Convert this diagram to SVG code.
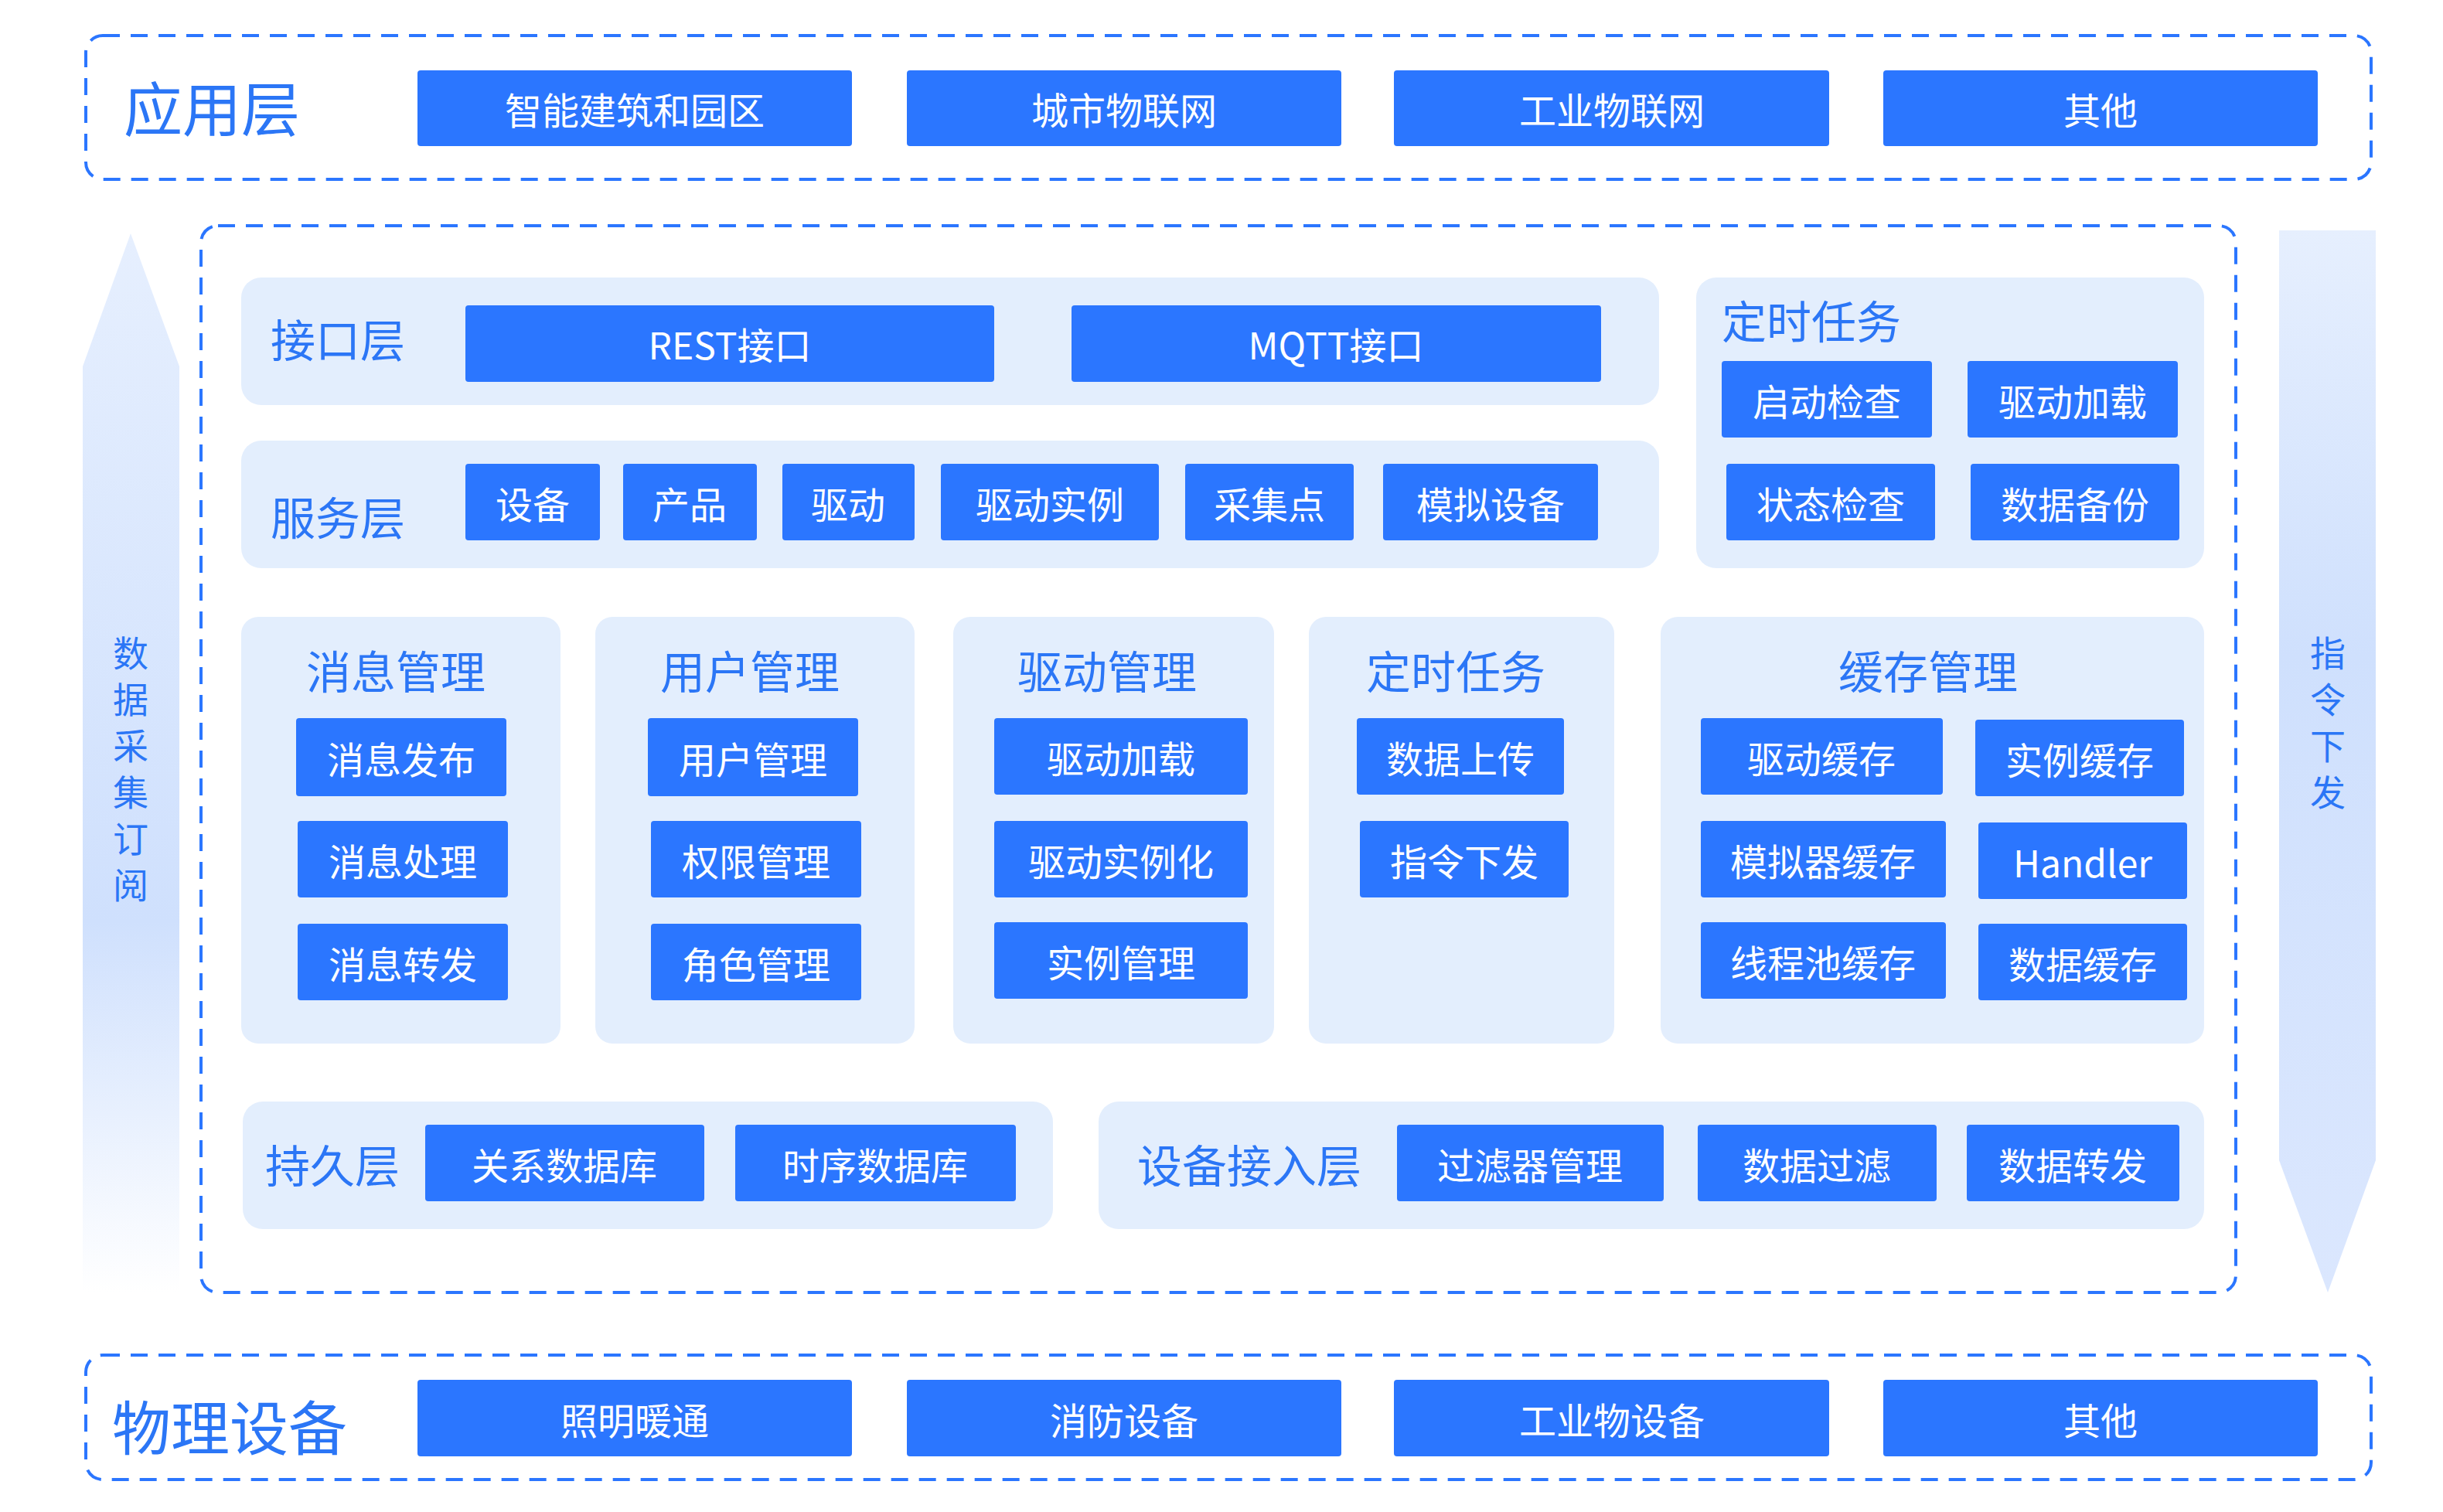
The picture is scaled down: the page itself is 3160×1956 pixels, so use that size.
<svg xmlns="http://www.w3.org/2000/svg" width="3160" height="1956" viewBox="0 0 3160 1956">
<defs>
<linearGradient id="gu" x1="0" y1="1" x2="0" y2="0"><stop offset="0" stop-color="#ffffff"/><stop offset="0.35" stop-color="#cfe0fd"/><stop offset="1" stop-color="#e6effe"/></linearGradient>
<linearGradient id="gd" x1="0" y1="0" x2="0" y2="1"><stop offset="0" stop-color="#e6effe"/><stop offset="0.4" stop-color="#cfe0fd"/><stop offset="1" stop-color="#dbe7fe"/></linearGradient>
<style>
.dash{fill:none;stroke:#2B76FF;stroke-width:4;stroke-dasharray:22 14}
.pan{fill:#E3EEFD}
.btn{fill:#2B76FF}
.bt{fill:#fff;font-family:"Noto Sans CJK SC","Noto Sans",sans-serif;font-size:48px;text-anchor:middle;dominant-baseline:central}
.lb{fill:#2B76F6;font-family:"Noto Sans CJK SC","Noto Sans",sans-serif;font-size:58px;dominant-baseline:central}
.big{font-size:76px}
.mid{text-anchor:middle}
.vt{fill:#2B76F6;font-family:"Noto Sans CJK SC",sans-serif;font-size:46px;text-anchor:middle;dominant-baseline:central}
</style>
</defs>
<g id="arrows">
<path d="M107 474 L169 302 L232 474 L232 1672 L107 1672 Z" fill="url(#gu)"/>
<path d="M2948 298 L3073 298 L3073 1501 L3011 1672 L2948 1501 Z" fill="url(#gd)"/>
<text class="vt" x="169" y="842">数</text><text class="vt" x="169" y="902">据</text><text class="vt" x="169" y="962">采</text><text class="vt" x="169" y="1022">集</text><text class="vt" x="169" y="1082">订</text><text class="vt" x="169" y="1142">阅</text>
<text class="vt" x="3011" y="842">指</text><text class="vt" x="3011" y="902">令</text><text class="vt" x="3011" y="962">下</text><text class="vt" x="3011" y="1022">发</text>
</g>
<g id="app">
<rect class="dash" x="111" y="46" width="2956" height="186" rx="22"/>
<text class="lb big" x="160" y="137">应用层</text>
<rect class="btn" x="540" y="91" width="562" height="98" rx="4"/><text class="bt" x="821" y="140">智能建筑和园区</text>
<rect class="btn" x="1173" y="91" width="562" height="98" rx="4"/><text class="bt" x="1454" y="140">城市物联网</text>
<rect class="btn" x="1803" y="91" width="563" height="98" rx="4"/><text class="bt" x="2085" y="140">工业物联网</text>
<rect class="btn" x="2436" y="91" width="562" height="98" rx="4"/><text class="bt" x="2717" y="140">其他</text>
</g>
<g id="core">
<rect class="dash" x="260" y="292" width="2632" height="1380" rx="22"/>
</g>
<g id="iface">
<rect class="pan" x="312" y="359" width="1834" height="165" rx="26"/>
<text class="lb" x="350" y="437">接口层</text>
<rect class="btn" x="602" y="395" width="684" height="99" rx="4"/><text class="bt" x="944" y="444">REST接口</text>
<rect class="btn" x="1386" y="395" width="685" height="99" rx="4"/><text class="bt" x="1728" y="444">MQTT接口</text>
</g>
<g id="service">
<rect class="pan" x="312" y="570" width="1834" height="165" rx="26"/>
<text class="lb" x="350" y="667">服务层</text>
<rect class="btn" x="602" y="600" width="174" height="99" rx="4"/><text class="bt" x="689" y="650">设备</text>
<rect class="btn" x="806" y="600" width="173" height="99" rx="4"/><text class="bt" x="892" y="650">产品</text>
<rect class="btn" x="1012" y="600" width="171" height="99" rx="4"/><text class="bt" x="1097" y="650">驱动</text>
<rect class="btn" x="1217" y="600" width="282" height="99" rx="4"/><text class="bt" x="1358" y="650">驱动实例</text>
<rect class="btn" x="1533" y="600" width="218" height="99" rx="4"/><text class="bt" x="1642" y="650">采集点</text>
<rect class="btn" x="1789" y="600" width="278" height="99" rx="4"/><text class="bt" x="1928" y="650">模拟设备</text>
</g>
<g id="timer-top">
<rect class="pan" x="2194" y="359" width="657" height="376" rx="26"/>
<text class="lb" x="2227" y="413">定时任务</text>
<rect class="btn" x="2227" y="467" width="272" height="99" rx="4"/><text class="bt" x="2363" y="517">启动检查</text>
<rect class="btn" x="2545" y="467" width="272" height="99" rx="4"/><text class="bt" x="2681" y="517">驱动加载</text>
<rect class="btn" x="2233" y="600" width="270" height="99" rx="4"/><text class="bt" x="2368" y="650">状态检查</text>
<rect class="btn" x="2549" y="600" width="270" height="99" rx="4"/><text class="bt" x="2684" y="650">数据备份</text>
</g>
<g id="msg">
<rect class="pan" x="312" y="798" width="413" height="552" rx="22"/>
<text class="lb mid" x="512" y="866">消息管理</text>
<rect class="btn" x="383" y="929" width="272" height="101" rx="4"/><text class="bt" x="519" y="980">消息发布</text>
<rect class="btn" x="385" y="1062" width="272" height="99" rx="4"/><text class="bt" x="521" y="1112">消息处理</text>
<rect class="btn" x="385" y="1195" width="272" height="99" rx="4"/><text class="bt" x="521" y="1245">消息转发</text>
</g>
<g id="user">
<rect class="pan" x="770" y="798" width="413" height="552" rx="22"/>
<text class="lb mid" x="970" y="866">用户管理</text>
<rect class="btn" x="838" y="929" width="272" height="101" rx="4"/><text class="bt" x="974" y="980">用户管理</text>
<rect class="btn" x="842" y="1062" width="272" height="99" rx="4"/><text class="bt" x="978" y="1112">权限管理</text>
<rect class="btn" x="842" y="1195" width="272" height="99" rx="4"/><text class="bt" x="978" y="1245">角色管理</text>
</g>
<g id="driver">
<rect class="pan" x="1233" y="798" width="415" height="552" rx="22"/>
<text class="lb mid" x="1432" y="866">驱动管理</text>
<rect class="btn" x="1286" y="929" width="328" height="99" rx="4"/><text class="bt" x="1450" y="979">驱动加载</text>
<rect class="btn" x="1286" y="1062" width="328" height="99" rx="4"/><text class="bt" x="1450" y="1112">驱动实例化</text>
<rect class="btn" x="1286" y="1193" width="328" height="99" rx="4"/><text class="bt" x="1450" y="1243">实例管理</text>
</g>
<g id="timer">
<rect class="pan" x="1693" y="798" width="395" height="552" rx="22"/>
<text class="lb mid" x="1883" y="866">定时任务</text>
<rect class="btn" x="1755" y="929" width="268" height="99" rx="4"/><text class="bt" x="1889" y="979">数据上传</text>
<rect class="btn" x="1759" y="1062" width="270" height="99" rx="4"/><text class="bt" x="1894" y="1112">指令下发</text>
</g>
<g id="cache">
<rect class="pan" x="2148" y="798" width="703" height="552" rx="22"/>
<text class="lb mid" x="2494" y="866">缓存管理</text>
<rect class="btn" x="2200" y="929" width="313" height="99" rx="4"/><text class="bt" x="2356" y="979">驱动缓存</text>
<rect class="btn" x="2555" y="931" width="270" height="99" rx="4"/><text class="bt" x="2690" y="981">实例缓存</text>
<rect class="btn" x="2200" y="1062" width="317" height="99" rx="4"/><text class="bt" x="2358" y="1112">模拟器缓存</text>
<rect class="btn" x="2559" y="1064" width="270" height="99" rx="4"/><text class="bt" x="2694" y="1114">Handler</text>
<rect class="btn" x="2200" y="1193" width="317" height="99" rx="4"/><text class="bt" x="2358" y="1243">线程池缓存</text>
<rect class="btn" x="2559" y="1195" width="270" height="99" rx="4"/><text class="bt" x="2694" y="1245">数据缓存</text>
</g>
<g id="persist">
<rect class="pan" x="314" y="1425" width="1048" height="165" rx="26"/>
<text class="lb" x="343" y="1505">持久层</text>
<rect class="btn" x="550" y="1455" width="361" height="99" rx="4"/><text class="bt" x="730" y="1505">关系数据库</text>
<rect class="btn" x="951" y="1455" width="363" height="99" rx="4"/><text class="bt" x="1132" y="1505">时序数据库</text>
</g>
<g id="access">
<rect class="pan" x="1421" y="1425" width="1430" height="165" rx="26"/>
<text class="lb" x="1471" y="1505">设备接入层</text>
<rect class="btn" x="1807" y="1455" width="345" height="99" rx="4"/><text class="bt" x="1979" y="1505">过滤器管理</text>
<rect class="btn" x="2196" y="1455" width="309" height="99" rx="4"/><text class="bt" x="2350" y="1505">数据过滤</text>
<rect class="btn" x="2544" y="1455" width="275" height="99" rx="4"/><text class="bt" x="2681" y="1505">数据转发</text>
</g>
<g id="physical">
<rect class="dash" x="111" y="1753" width="2956" height="161" rx="22"/>
<text class="lb big" x="145" y="1843">物理设备</text>
<rect class="btn" x="540" y="1785" width="562" height="99" rx="4"/><text class="bt" x="821" y="1835">照明暖通</text>
<rect class="btn" x="1173" y="1785" width="562" height="99" rx="4"/><text class="bt" x="1454" y="1835">消防设备</text>
<rect class="btn" x="1803" y="1785" width="563" height="99" rx="4"/><text class="bt" x="2085" y="1835">工业物设备</text>
<rect class="btn" x="2436" y="1785" width="562" height="99" rx="4"/><text class="bt" x="2717" y="1835">其他</text>
</g>
</svg>
